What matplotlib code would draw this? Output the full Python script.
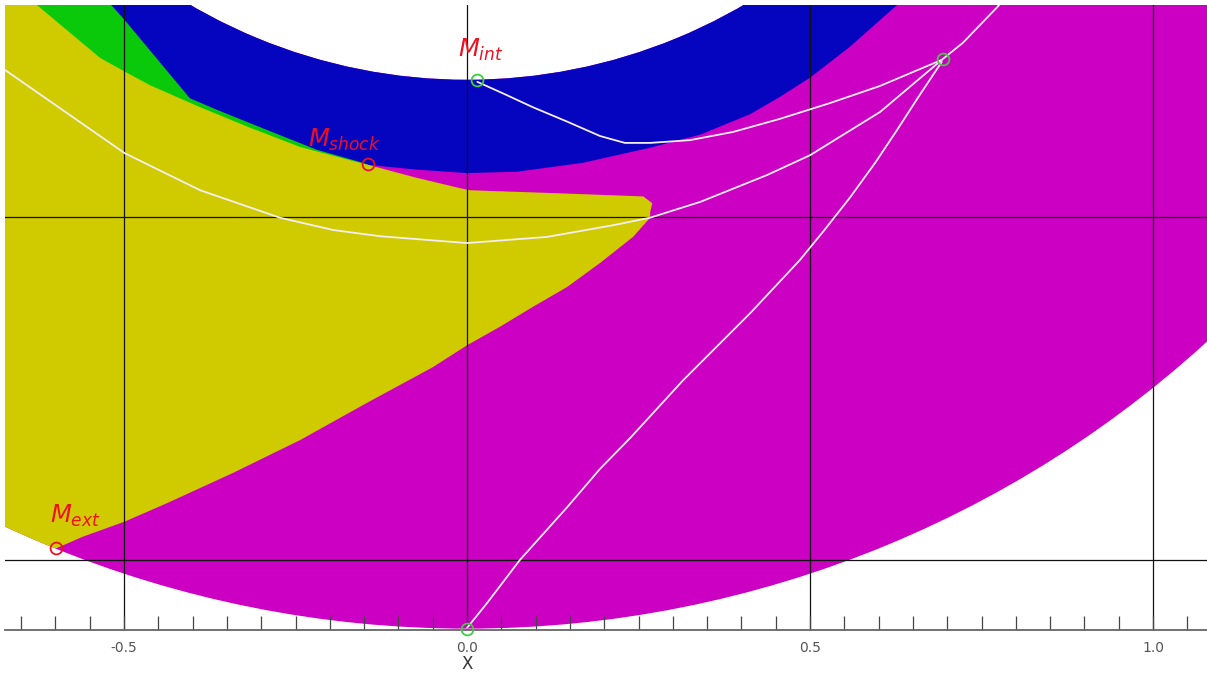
import matplotlib
matplotlib.use('Agg')
import matplotlib.pyplot as plt
from matplotlib.patches import Wedge, Polygon
from matplotlib.ticker import MultipleLocator, FixedLocator

plt.rcParams['axes.unicode_minus'] = False
plt.rcParams['mathtext.fontset'] = 'dejavusans'

# ---- geometry (annulus) ----
R_INNER = 0.8
R_OUTER = 1.6

# ---- region boundaries (data coords) ----
yellow_top_x = [-0.75, -0.627, -0.535, -0.499, -0.462, -0.389, -0.316, -0.243, -0.156, -0.144,
                -0.073, -0.010, 0.004, 0.121, 0.257, 0.270, 0.267, 0.267]
yellow_top_y = [-0.588, -0.691, -0.768, -0.788, -0.808, -0.840, -0.870, -0.898, -0.921, -0.924,
                -0.943, -0.958, -0.961, -0.965, -0.970, -0.980, -0.993, -1.001]
yellow_bottom_x = [0.242, 0.194, 0.146, 0.096, 0.048, 0.0, -0.050, -0.146, -0.243, -0.341,
                   -0.437, -0.499, -0.560, -0.599]
yellow_bottom_y = [-1.029, -1.067, -1.102, -1.131, -1.160, -1.187, -1.219, -1.271, -1.325, -1.373,
                   -1.417, -1.444, -1.466, -1.483]

green_blue_x = [-0.60, -0.516, -0.499, -0.404, -0.364, -0.292, -0.219, -0.152, -0.144]
green_blue_y = [-0.60, -0.694, -0.713, -0.827, -0.844, -0.873, -0.902, -0.921, -0.924]

blue_magenta_x = [-0.144, -0.073, 0.0, 0.073, 0.169, 0.267, 0.340, 0.413, 0.456, 0.500,
                  0.558, 0.627, 0.68]
blue_magenta_y = [-0.924, -0.931, -0.936, -0.934, -0.921, -0.899, -0.880, -0.850, -0.825, -0.797,
                  -0.752, -0.691, -0.63]

# ---- white curves ----
curve_a_x = [0.015, 0.055, 0.096, 0.146, 0.194, 0.230, 0.267, 0.325, 0.388, 0.456, 0.529,
             0.602, 0.692]
curve_a_y = [-0.803, -0.821, -0.840, -0.861, -0.882, -0.892, -0.892, -0.888, -0.876, -0.857,
             -0.834, -0.809, -0.771]

curve_b_x = [-0.69, -0.673, -0.499, -0.389, -0.273, -0.195, -0.127, 0.0, 0.117, 0.213, 0.267,
             0.340, 0.437, 0.500, 0.602, 0.692, 0.723, 0.773, 0.792]
curve_b_y = [-0.775, -0.786, -0.907, -0.961, -1.001, -1.019, -1.028, -1.038, -1.029, -1.012,
             -1.001, -0.978, -0.939, -0.910, -0.847, -0.771, -0.746, -0.694, -0.672]

curve_c_x = [0.0, 0.029, 0.077, 0.146, 0.194, 0.238, 0.315, 0.413, 0.485, 0.521, 0.558,
             0.595, 0.627, 0.660, 0.692]
curve_c_y = [-1.599, -1.563, -1.500, -1.423, -1.367, -1.322, -1.238, -1.140, -1.063, -1.019,
             -0.972, -0.921, -0.873, -0.822, -0.774]

# ---- markers and labels ----
green_pts_x = [0.015, 0.694, 0.0]
green_pts_y = [-0.800, -0.770, -1.600]
red_pts_x = [-0.144, -0.599]
red_pts_y = [-0.923, -1.483]
label_text = [r'$M_{int}$', r'$M_{shock}$', r'$M_{ext}$']
label_x = [-0.013, -0.232, -0.608]
label_y = [-0.767, -0.898, -1.446]

xtick_major = [-0.5, 0.0, 0.5, 1.0]
xtick_labels = ['-0.5', '0.0', '0.5', '1.0']
ygrid = [-1.5, -1.0]

YELLOW = '#d0cb00'
GREEN = '#0ac80a'
BLUE = '#0505bf'
MAGENTA = '#cc00c2'

W, H = 1207, 674
fig = plt.figure(figsize=(W / 100, H / 100), dpi=100)
ax = fig.add_axes([5 / W, 44 / H, 1202 / W, 625 / H])
ax.set_xlim(-0.6735, 1.0787)
ax.set_ylim(-1.602, -0.691)

annulus = Wedge((0, 0), R_OUTER, 0, 360, width=R_OUTER - R_INNER,
                facecolor=MAGENTA, edgecolor='none', zorder=1)
ax.add_patch(annulus)

# blue region (layered, then green, then yellow on top), all clipped to the annulus
blue_poly = list(zip(blue_magenta_x, blue_magenta_y)) + [(0.75, -0.4), (-1.2, -0.4), (-1.2, -1.75)]
green_poly = list(zip(green_blue_x, green_blue_y)) + [(-1.2, -1.75), (-1.2, -0.4), (-0.6, -0.4)]
yellow_poly = (list(zip(yellow_top_x, yellow_top_y)) + list(zip(yellow_bottom_x, yellow_bottom_y))
               + [(-0.70, -1.75), (-1.2, -1.75), (-1.2, -0.4), (-0.75, -0.4)])
for pts, col in [(blue_poly, BLUE), (green_poly, GREEN), (yellow_poly, YELLOW)]:
    p = Polygon(pts, closed=True, facecolor=col, edgecolor='none', zorder=1.2)
    ax.add_patch(p)
    p.set_clip_path(annulus)

# white curves
for cx, cy in [(curve_a_x, curve_a_y), (curve_b_x, curve_b_y), (curve_c_x, curve_c_y)]:
    ax.plot(cx, cy, color='#f4eef4', lw=1.3, zorder=3, solid_capstyle='round',
            solid_joinstyle='round')

ax.plot(green_pts_x, green_pts_y, 'o', ms=8.5, mfc='none', mec='#3ecf3e', mew=1.3, zorder=4,
        clip_on=False)
ax.plot(red_pts_x, red_pts_y, 'o', ms=8.5, mfc='none', mec='#ee1020', mew=1.3, zorder=4)

for t, lx, ly in zip(label_text, label_x, label_y):
    ax.text(lx, ly, t, color='#ee1020', fontsize=17.5, ha='left', va='baseline', zorder=5)

# axes styling
for s in ['top', 'right', 'left']:
    ax.spines[s].set_visible(False)
ax.spines['bottom'].set_color('#666666')
ax.spines['bottom'].set_linewidth(1.3)
ax.spines['bottom'].set_zorder(3.5)

ax.xaxis.set_major_locator(FixedLocator(xtick_major))
ax.set_xticklabels(xtick_labels)
ax.xaxis.set_minor_locator(MultipleLocator(0.05))
ax.yaxis.set_major_locator(FixedLocator(ygrid))
ax.tick_params(axis='x', which='both', direction='in', length=10, width=0.9, color='#444444',
               labelsize=10, labelcolor='#555555', pad=8)
ax.tick_params(axis='y', which='both', left=False, labelleft=False)
ax.set_axisbelow(False)
ax.grid(True, which='major', color='#111111', linewidth=0.9)

ax.set_xlabel('X', fontsize=12, color='#333333')
ax.xaxis.set_label_coords((467 - 5) / 1202, -0.040)

fig.savefig('out.png', dpi=100, facecolor='white')
